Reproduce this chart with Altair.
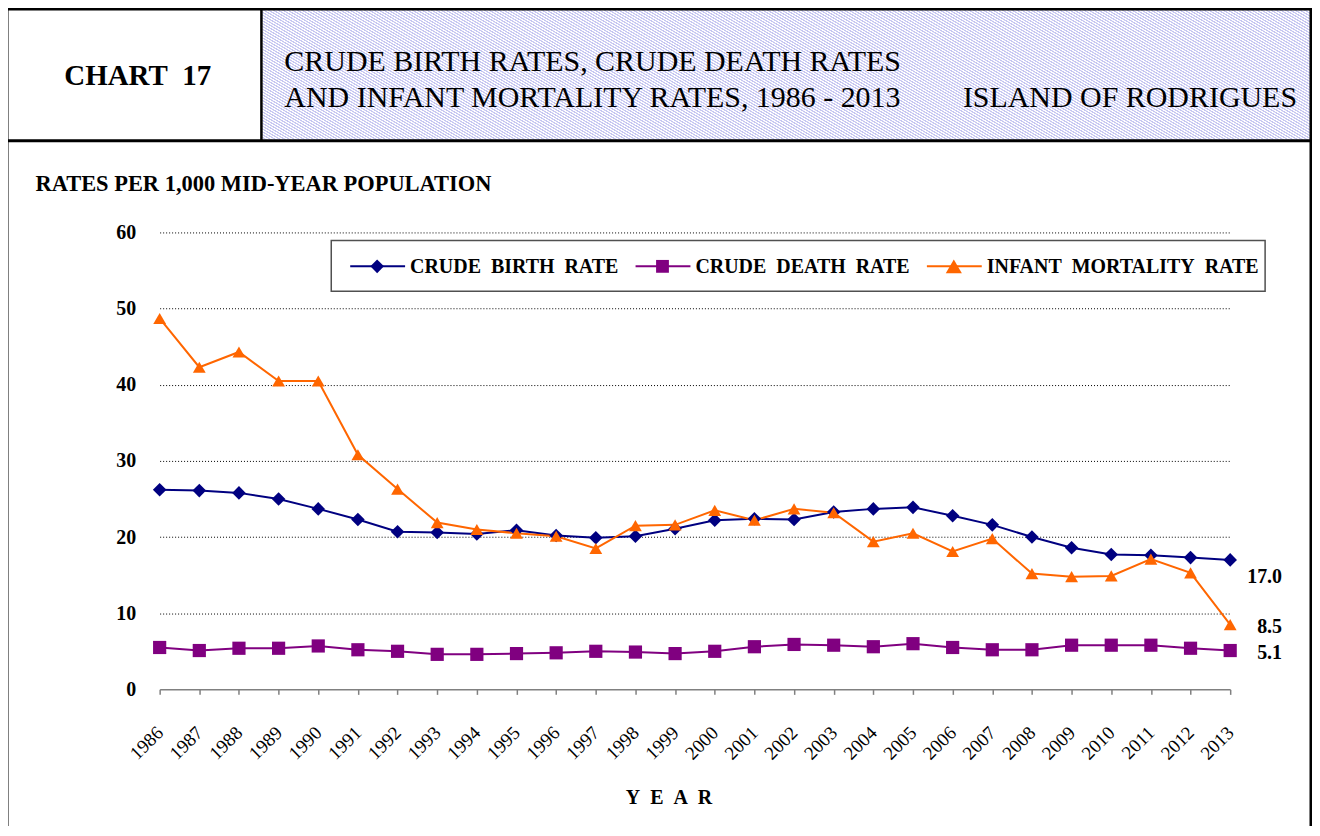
import altair as alt
import pandas as pd

# ---------------- data ----------------
years = list(range(1986, 2014))
birth_rate = [26.2, 26.1, 25.8, 25.0, 23.7, 22.3, 20.7, 20.6, 20.4, 20.9,
              20.2, 19.9, 20.1, 21.1, 22.2, 22.4, 22.3, 23.3, 23.7, 23.9,
              22.8, 21.6, 20.0, 18.6, 17.7, 17.6, 17.3, 17.0]
death_rate = [5.5, 5.1, 5.4, 5.4, 5.7, 5.2, 5.0, 4.6, 4.6, 4.7,
              4.8, 5.0, 4.9, 4.7, 5.0, 5.6, 5.9, 5.8, 5.6, 6.0,
              5.5, 5.2, 5.2, 5.8, 5.8, 5.8, 5.4, 5.1]
infant_mortality = [48.7, 42.3, 44.3, 40.5, 40.5, 30.8, 26.3, 21.9, 21.0, 20.5,
                    20.1, 18.5, 21.5, 21.6, 23.5, 22.2, 23.7, 23.2, 19.4, 20.5,
                    18.1, 19.8, 15.2, 14.8, 14.9, 17.1, 15.3, 8.5]
series_names = ["CRUDE BIRTH RATE", "CRUDE DEATH RATE", "INFANT MORTALITY RATE"]
series_colors = ["#000080", "#800080", "#FF6600"]
series_shapes = ["diamond", "square", "triangle-up"]
y_ticks = [0, 10, 20, 30, 40, 50, 60]

df = pd.DataFrame({
    "year": years * 3,
    "value": birth_rate + death_rate + infant_mortality,
    "series": [n for n in series_names for _ in years],
})
one = pd.DataFrame({"k": [0]})

SERIF = "Liberation Serif"
NB = "\u00a0"
X0, Y0 = 160, 232   # page position of the plot origin
W, H = 1073, 458
MARK_SIZES = [185, 165, 260]


def px(x):
    return x - X0


def py(y):
    return y - Y0


# --------------- decorations ---------------
def rect(x1, x2, y1, y2, **kw):
    return alt.Chart(one).mark_rect(**kw).encode(
        x=alt.value(px(x1)), x2=alt.value(px(x2)),
        y=alt.value(py(y1)), y2=alt.value(py(y2)))


def rule(x1, x2, y1, y2, **kw):
    return alt.Chart(one).mark_rule(**kw).encode(
        x=alt.value(px(x1)), x2=alt.value(px(x2)),
        y=alt.value(py(y1)), y2=alt.value(py(y2)))


def text(t, x, y, **kw):
    return alt.Chart(one).mark_text(text=t, **kw).encode(
        x=alt.value(px(x)), y=alt.value(py(y)))


# hatched header panel: striped gradient (Vega maps it onto a square
# of side max(w, h) covering the rect)
hw = 1314 - 262
period = 3.4 / (hw * 2 ** 0.5)
stops = []
t = 0.0
while t < 1.0:
    stops += [
        alt.GradientStop(offset=round(t, 6), color="#C6C6F1"),
        alt.GradientStop(offset=round(t + 0.38 * period, 6), color="#C6C6F1"),
        alt.GradientStop(offset=round(t + 0.5 * period, 6), color="#FFFFFF"),
        alt.GradientStop(offset=round(t + 0.88 * period, 6), color="#FFFFFF"),
    ]
    t += period
hatch_fill = alt.LinearGradient(gradient="linear", stops=stops,
                                x1=0, y1=0, x2=1, y2=1)

hatch = rect(262, 1314, 8, 141, fill=hatch_fill)
frame = rect(7, 1314, 8, 900, fill="transparent", stroke="black", strokeWidth=3)
header_line = rule(7, 1314, 140, 140, color="black", strokeWidth=3)
header_div = rule(262, 262, 8, 140, color="black", strokeWidth=2.5)

chart_no = text("CHART" + NB + NB + "17", 138, 84, font=SERIF, fontSize=29,
                fontWeight="bold", align="center", baseline="alphabetic",
                color="black")
title1 = text("CRUDE BIRTH RATES, CRUDE DEATH RATES", 285, 70, font=SERIF,
              fontSize=30, align="left", baseline="alphabetic", color="black")
title2 = text("AND INFANT MORTALITY RATES, 1986 - 2013", 285, 106, font=SERIF,
              fontSize=30, align="left", baseline="alphabetic", color="black")
title3 = text("ISLAND OF RODRIGUES", 1300, 106, font=SERIF, fontSize=30,
              align="right", baseline="alphabetic", color="black")

# legend
legend_box = rect(332, 1268, 240, 291, fill="white", stroke="#505050", strokeWidth=1.5)
legend_layers = []
leg_starts = [351, 637, 929]
for name, col, shp, sz, x0 in zip(series_names, series_colors, series_shapes,
                                  MARK_SIZES, leg_starts):
    legend_layers.append(rule(x0, x0 + 55, 266, 266, color=col, strokeWidth=2))
    legend_layers.append(
        alt.Chart(one).mark_point(shape=shp, size=sz, filled=True, opacity=1,
                                  color=col).encode(
            x=alt.value(px(x0 + 27)), y=alt.value(py(266))))
    legend_layers.append(
        text(name.replace(" ", NB + NB), x0 + 60, 273, font=SERIF,
             fontSize=20, fontWeight="bold", align="left",
             baseline="alphabetic", color="black"))

# --------------- data layers ---------------
color_scale = alt.Scale(domain=series_names, range=series_colors)

x_enc = alt.X(
    "year:Q",
    scale=alt.Scale(domain=[1986, 2013], nice=False, zero=False),
    axis=alt.Axis(
        values=years, format="d", labelAngle=-45, labelAlign="right",
        labelBaseline="middle", labelFont=SERIF, labelFontSize=19,
        labelColor="black", labelPadding=35, labelOverlap=False, labelFlush=False,
        labelBound=False,
        tickSize=5, tickColor="#808080", tickWidth=1.5,
        domainColor="#808080", domainWidth=1.5, grid=False,
        title=(NB * 2).join("YEAR"),
        titleFont=SERIF,
        titleFontSize=20, titleFontWeight="bold", titleColor="black",
        titleX=510, titleY=114, titleAlign="center", titleBaseline="alphabetic"),
)
y_enc = alt.Y(
    "value:Q",
    scale=alt.Scale(domain=[0, 60], nice=False),
    axis=alt.Axis(
        values=y_ticks, format="d", labelFont=SERIF, labelFontSize=20,
        labelFontWeight="bold", labelColor="black", labelPadding=24,
        ticks=False, domain=False, grid=True, gridColor="black",
        gridDash=[1, 2], gridWidth=1,
        gridOpacity={"condition": {"test": "datum.value === 0", "value": 0}, "value": 1},
        title="RATES PER 1,000 MID-YEAR POPULATION", titleAngle=0,
        titleAlign="left", titleBaseline="alphabetic", titleX=-125, titleY=-42,
        titleFont=SERIF, titleFontSize=22.5, titleFontWeight="bold",
        titleColor="black"),
)

lines = alt.Chart(df).mark_line(strokeWidth=2).encode(
    x=x_enc, y=y_enc,
    color=alt.Color("series:N", scale=color_scale, legend=None),
)
points = alt.Chart(df).mark_point(filled=True, opacity=1).encode(
    x=x_enc, y=y_enc,
    color=alt.Color("series:N", scale=color_scale, legend=None),
    shape=alt.Shape("series:N", scale=alt.Scale(domain=series_names, range=series_shapes), legend=None),
    size=alt.Size("series:N", scale=alt.Scale(domain=series_names, range=MARK_SIZES), legend=None),
)


def end_label(name, dy):
    return alt.Chart(df).transform_filter(
        f"datum.year == 2013 && datum.series == '{name}'"
    ).mark_text(dx=52, dy=dy, align="right", baseline="middle", font=SERIF,
                fontSize=20, fontWeight="bold", color="black").encode(
        x=x_enc, y=y_enc, text=alt.Text("value:Q", format=".1f"))


labels = [end_label(series_names[0], 17), end_label(series_names[1], 2),
          end_label(series_names[2], 2)]

chart = alt.layer(
    hatch, frame, header_line, header_div, chart_no, title1, title2, title3,
    legend_box, *legend_layers, lines, points, *labels,
).properties(
    width=W, height=H,
    autosize=alt.AutoSizeParams(type="none"),
    padding={"left": 152, "top": 224, "right": 82, "bottom": 136},
    background="white",
).configure_view(stroke=None).configure_axisX(labelOverlap=False)

chart.save("out.html", embed_options={"renderer": "svg", "actions": False})
